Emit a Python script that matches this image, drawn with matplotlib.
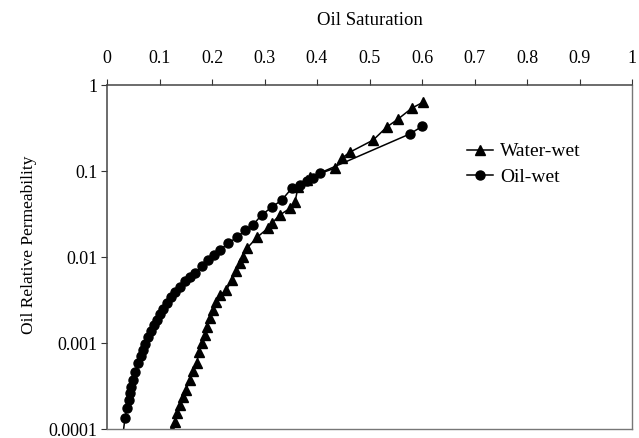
import matplotlib
matplotlib.use("Agg")
import matplotlib.pyplot as plt
from matplotlib.ticker import FixedLocator, FixedFormatter, NullLocator

plt.rcParams['font.family'] = ['Liberation Serif', 'DejaVu Serif']

# Water-wet (triangles)
ww_sat = [0.120, 0.124, 0.1295, 0.133, 0.139, 0.145, 0.150, 0.158, 0.164, 0.171,
          0.175, 0.181, 0.187, 0.190, 0.196, 0.202, 0.208, 0.215, 0.227, 0.238,
          0.246, 0.253, 0.259, 0.267, 0.286, 0.307, 0.314, 0.330, 0.349, 0.358,
          0.364, 0.381, 0.387, 0.434, 0.448, 0.463, 0.507, 0.533, 0.554, 0.581, 0.602]
ww_kro = [8.0e-5, 9.7e-5, 1.2e-4, 1.53e-4, 1.9e-4, 2.35e-4, 2.84e-4, 3.7e-4, 4.7e-4, 5.85e-4,
          7.85e-4, 1.0e-3, 1.24e-3, 1.53e-3, 1.95e-3, 2.4e-3, 3.0e-3, 3.6e-3, 4.1e-3, 5.4e-3,
          6.8e-3, 8.5e-3, 0.010, 0.0127, 0.017, 0.0217, 0.0248, 0.031, 0.037, 0.0436,
          0.065, 0.0786, 0.085, 0.108, 0.142, 0.166, 0.229, 0.325, 0.40, 0.54, 0.63]

# Oil-wet (circles)
ow_sat = [0.029, 0.0343, 0.0381, 0.041, 0.0438, 0.0465, 0.0495, 0.054, 0.059, 0.064,
          0.0686, 0.073, 0.078, 0.083, 0.089, 0.0952, 0.101, 0.107, 0.114, 0.121,
          0.130, 0.139, 0.148, 0.158, 0.168, 0.180, 0.192, 0.204, 0.215, 0.231,
          0.248, 0.263, 0.278, 0.295, 0.314, 0.333, 0.352, 0.368, 0.380, 0.392,
          0.406, 0.577, 0.600]
ow_kro = [7.4e-5, 1.34e-4, 1.75e-4, 2.15e-4, 2.6e-4, 3.1e-4, 3.7e-4, 4.6e-4, 5.8e-4, 7.0e-4,
          8.3e-4, 9.8e-4, 1.17e-3, 1.38e-3, 1.6e-3, 1.85e-3, 2.15e-3, 2.5e-3, 2.9e-3, 3.4e-3,
          3.9e-3, 4.5e-3, 5.2e-3, 5.8e-3, 6.5e-3, 7.8e-3, 9.2e-3, 0.0105, 0.012, 0.0145,
          0.017, 0.0205, 0.0236, 0.031, 0.038, 0.046, 0.063, 0.069, 0.076, 0.083,
          0.095, 0.27, 0.33]

x_ticks = [0, 0.1, 0.2, 0.3, 0.4, 0.5, 0.6, 0.7, 0.8, 0.9, 1]
x_labels = ['0', '0.1', '0.2', '0.3', '0.4', '0.5', '0.6', '0.7', '0.8', '0.9', '1']
y_ticks = [0.0001, 0.001, 0.01, 0.1, 1]
y_labels = ['0.0001', '0.001', '0.01', '0.1', '1']

fig = plt.figure(figsize=(6.39, 4.38), dpi=100)
ax = fig.add_axes([107/639, 1-429/438, (632-107)/639, (429-85)/438])

ax.plot(ww_sat, ww_kro, color='black', marker='^', markersize=6.5, linewidth=1.1,
        label='Water-wet', clip_on=True)
ax.plot(ow_sat, ow_kro, color='black', marker='o', markersize=6.5, linewidth=1.1,
        label='Oil-wet', clip_on=True)

ax.set_yscale('log')
ax.set_xlim(0, 1)
ax.set_ylim(0.0001, 1)

ax.xaxis.set_ticks_position('top')
ax.xaxis.set_label_position('top')
ax.xaxis.set_major_locator(FixedLocator(x_ticks))
ax.xaxis.set_major_formatter(FixedFormatter(x_labels))
ax.xaxis.set_minor_locator(NullLocator())
ax.yaxis.set_major_locator(FixedLocator(y_ticks))
ax.yaxis.set_major_formatter(FixedFormatter(y_labels))
ax.yaxis.set_minor_locator(NullLocator())

ax.tick_params(axis='both', direction='out', length=4, width=0.8, colors='#333333',
               labelcolor='black', labelsize=13)
ax.tick_params(axis='x', pad=9)
ax.tick_params(axis='y', pad=3)

for side in ['top', 'left']:
    ax.spines[side].set_color('#444444')
    ax.spines[side].set_linewidth(1.1)
for side in ['right', 'bottom']:
    ax.spines[side].set_color('#777777')
    ax.spines[side].set_linewidth(1.0)

ax.set_xlabel('Oil Saturation', fontsize=13.5, labelpad=18)
ax.set_ylabel('Oil Relative Permeability', fontsize=12.5, labelpad=8)
ax.yaxis.label.set_y(0.535)

ax.legend(loc='upper left', bbox_to_anchor=(0.667, 0.86), frameon=False, fontsize=14,
          handlelength=1.35, handletextpad=0.36, labelspacing=0.4, borderpad=0)

fig.savefig('out.png', dpi=100, facecolor='white')
